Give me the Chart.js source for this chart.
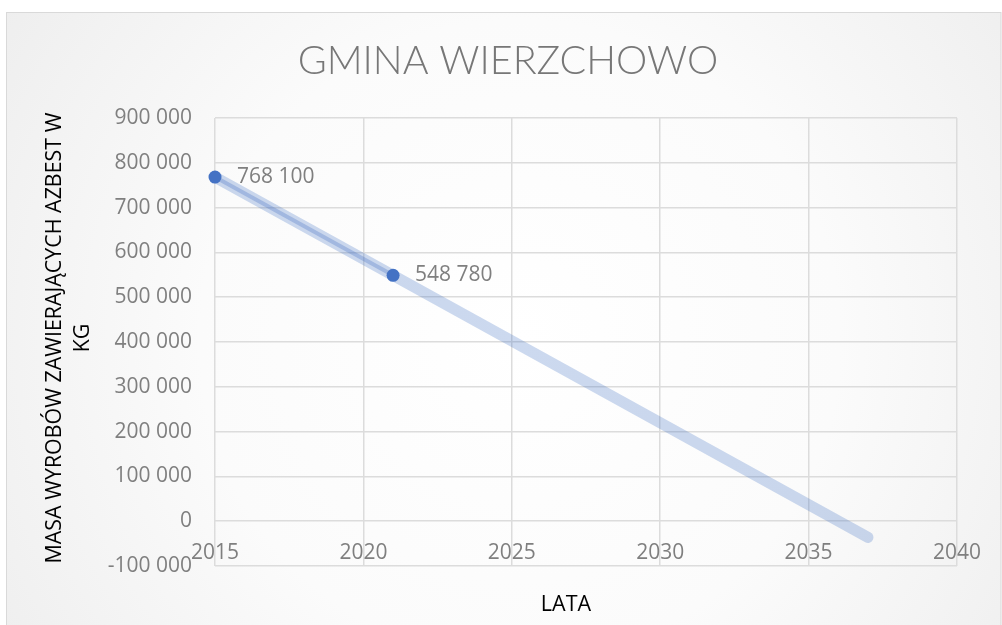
<!DOCTYPE html>
<html>
<head>
<meta charset="utf-8">
<script src="https://cdn.jsdelivr.net/npm/chart.js@4.4.1/dist/chart.umd.min.js"></script>
<style>
  html, body { margin: 0; padding: 0; background: #ffffff; }
  #wrap { width: 1002px; height: 625px; }
</style>
</head>
<body>
<div id="wrap"><canvas id="chart" width="1002" height="625"></canvas></div>
<script>
// Masa wyrobów zawierających azbest (kg) w kolejnych latach
const years = [2015, 2021];
const masses = [768100, 548780];

// Linia trendu liniowego (odczytane punkty końcowe)
const trendYears = [2015, 2037];
const trendMasses = [768100, -36100];

// Zakresy i podziałki osi
const xTicks = [2015, 2020, 2025, 2030, 2035, 2040];
const yTicks = [-100000, 0, 100000, 200000, 300000, 400000, 500000, 600000, 700000, 800000, 900000];

const chartTitle = 'GMINA WIERZCHOWO';
const yTitle = ['MASA WYROBÓW ZAWIERAJĄCYCH AZBEST W', 'KG'];
const xTitle = 'LATA';

const GRAY = '#7f7f7f';
const BLUE = '#4472C4';
const FONT = "'Open Sans', 'DejaVu Sans', sans-serif";

function fmt(v) {
  return String(Math.round(v)).replace(/\B(?=(\d{3})+(?!\d))/g, ' ');
}

// tło obszaru wykresu z delikatnym gradientem i obramowaniem
const backgroundPlugin = {
  id: 'panelBackground',
  beforeDraw(chart) {
    const ctx = chart.ctx;
    ctx.save();
    ctx.fillStyle = '#ffffff';
    ctx.fillRect(0, 0, chart.width, chart.height);
    const g = ctx.createRadialGradient(520, 340, 0, 520, 340, 640);
    g.addColorStop(0, '#ffffff');
    g.addColorStop(0.5, '#fbfbfb');
    g.addColorStop(1, '#ededed');
    ctx.fillStyle = g;
    ctx.fillRect(6, 12, 995, chart.height);
    ctx.strokeStyle = '#d9d9d9';
    ctx.lineWidth = 1;
    ctx.strokeRect(6.5, 12.5, 994.5, chart.height + 10);
    ctx.restore();
  }
};

// etykiety wartości przy punktach serii
const valueLabelPlugin = {
  id: 'valueLabels',
  afterDatasetsDraw(chart) {
    const ctx = chart.ctx;
    const meta = chart.getDatasetMeta(0);
    ctx.save();
    ctx.font = "21px " + FONT;
    ctx.fillStyle = GRAY;
    ctx.textAlign = 'left';
    ctx.textBaseline = 'middle';
    meta.data.forEach((el, i) => {
      ctx.fillText(fmt(masses[i]), el.x + 22, el.y);
    });
    ctx.restore();
  }
};

// przesunięcie tytułów osi względem środka obszaru danych
const titleShiftPlugin = {
  id: 'titleShift',
  afterLayout(chart) {
    const x = chart.scales.x;
    x.left -= 20; x.right -= 20;
    const y = chart.scales.y;
    y.top -= 4; y.bottom -= 4;
  }
};

new Chart(document.getElementById('chart'), {
  type: 'scatter',
  data: {
    datasets: [
      {
        label: 'Masa',
        data: years.map((yr, i) => ({ x: yr, y: masses[i] })),
        showLine: true,
        borderColor: 'rgba(68,114,196,0.30)',
        borderWidth: 4,
        pointRadius: 6.5,
        pointHoverRadius: 6.5,
        pointBackgroundColor: BLUE,
        pointBorderWidth: 0
      },
      {
        label: 'Trend',
        data: trendYears.map((yr, i) => ({ x: yr, y: trendMasses[i] })),
        showLine: true,
        borderColor: 'rgba(68,114,196,0.27)',
        borderWidth: 11,
        borderCapStyle: 'round',
        pointRadius: 0,
        pointHoverRadius: 0,
        clip: false
      }
    ]
  },
  options: {
    responsive: false,
    animation: false,
    layout: { padding: { left: 14, right: 0, top: 0, bottom: 0 } },
    plugins: {
      legend: { display: false },
      tooltip: { enabled: false },
      title: {
        display: true,
        text: chartTitle,
        color: '#777777',
        font: { family: "Lato, 'Open Sans', sans-serif", size: 39.5, weight: 300, lineHeight: 1.2 },
        padding: { top: 38, bottom: 32.6 }
      }
    },
    scales: {
      x: {
        type: 'linear',
        min: xTicks[0],
        max: xTicks[xTicks.length - 1],
        afterBuildTicks(scale) { scale.ticks = xTicks.map(v => ({ value: v })); },
        afterFit(scale) { scale.height = 59; },
        grid: { color: '#dcdcdc', lineWidth: 1.5, drawTicks: false },
        border: { display: false },
        ticks: {
          mirror: true,
          padding: 0,
          color: GRAY,
          font: { family: FONT, size: 21 },
          maxRotation: 0,
          callback: v => String(v)
        },
        title: {
          display: true,
          text: xTitle,
          color: '#000000',
          font: { family: FONT, size: 21.5, lineHeight: 1.2 },
          padding: { top: 0, bottom: 7 }
        }
      },
      y: {
        type: 'linear',
        min: yTicks[0],
        max: yTicks[yTicks.length - 1],
        afterBuildTicks(scale) { scale.ticks = yTicks.map(v => ({ value: v })); },
        afterFit(scale) { scale.width = 201; },
        grid: { color: '#dcdcdc', lineWidth: 1.5, drawTicks: false },
        border: { display: false },
        ticks: {
          padding: 23,
          color: GRAY,
          font: { family: FONT, size: 21 },
          callback: v => fmt(v)
        },
        title: {
          display: true,
          text: yTitle,
          color: '#000000',
          font: { family: FONT, size: 21.4, lineHeight: 1.33 },
          padding: { top: 26.5, bottom: 0 }
        }
      },
      // pusty margines po prawej stronie obszaru danych
      yRight: {
        type: 'linear',
        position: 'right',
        display: true,
        min: 0,
        max: 1,
        grid: { display: false, drawTicks: false },
        border: { display: false },
        ticks: { display: false },
        afterFit(scale) { scale.width = 45; }
      }
    }
  },
  plugins: [backgroundPlugin, valueLabelPlugin, titleShiftPlugin]
});
</script>
</body>
</html>
